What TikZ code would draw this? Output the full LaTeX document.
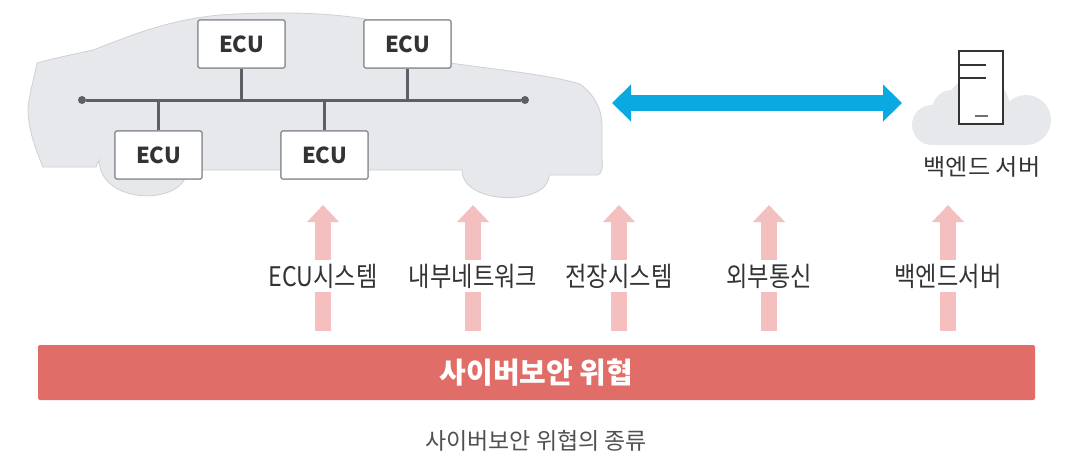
\documentclass[tikz,border=0pt]{standalone}
\usepackage{fontspec}
\setmainfont{Noto Sans CJK KR}
\newfontfamily\condfont[FakeStretch=0.86]{Noto Sans CJK KR}
\newfontfamily\widefont[FakeStretch=1.05]{Noto Sans CJK KR}
\usetikzlibrary{arrows.meta}

\definecolor{carfill}{HTML}{E6E8EB}
\definecolor{carline}{HTML}{CDD0D4}
\definecolor{busgray}{HTML}{5B6066}
\definecolor{eculine}{HTML}{8A8E92}
\definecolor{inktext}{HTML}{333333}
\definecolor{linkblue}{HTML}{0AA9E2}
\definecolor{threatpink}{HTML}{F3C0BF}
\definecolor{threatred}{HTML}{E06D67}
\definecolor{captiongray}{HTML}{505050}

\tikzset{
  ecubox/.style={draw=eculine, line width=1.2pt, fill=white, rounded corners=2pt,
    minimum width=87pt, minimum height=48pt, inner sep=0pt,
    font=\fontsize{22}{22}\selectfont\bfseries, text=inktext},
  bus/.style={draw=busgray, line width=3pt},
  busdot/.style={circle, fill=busgray, minimum size=8pt, inner sep=0pt},
  threatlabel/.style={fill=white, inner sep=0pt, minimum height=32pt,
    font=\condfont\fontsize{27}{27}\selectfont, text=inktext},
  threatarrow/.style={line width=16pt, draw=threatpink,
    -{Triangle[width=31pt,length=17pt]}},
  linkarrow/.style={line width=16pt, draw=linkblue,
    {Triangle[width=36pt,length=19pt]}-{Triangle[width=36pt,length=19pt]}},
}

\begin{document}
\begin{tikzpicture}[x=1pt,y=-1pt]
\useasboundingbox (0,0) rectangle (1065,460);

% car silhouette
\fill[carfill, draw=carline, line width=0.8pt]
  (43,167) .. controls (36,150) and (28,130) .. (28,108)
  .. controls (30,90) and (35,75) .. (37,63)
  .. controls (55,58) and (75,54) .. (93,50)
  .. controls (125,38) and (165,20) .. (220,15)
  .. controls (280,11) and (330,13) .. (365,19)
  .. controls (395,30) and (425,50) .. (450,63)
  .. controls (500,70) and (550,75) .. (580,84)
  .. controls (595,95) and (602,110) .. (602,125)
  -- (602,160)
  .. controls (603,168) and (602,172) .. (598,175)
  -- (549,175)
  .. controls (550,206) and (462,206) .. (462,170)
  -- (187,170)
  .. controls (186,206) and (100,206) .. (99,160)
  -- (96,167)
  -- cycle;

% in-vehicle bus
\node[busdot] (busL) at (82,100) {};
\node[busdot] (busR) at (525,100) {};
\draw[bus] (busL) -- (busR);

\node[ecubox] (ecu1) at (241.5,44) {ECU};
\node[ecubox] (ecu2) at (407.5,44) {ECU};
\node[ecubox] (ecu3) at (158.5,155) {ECU};
\node[ecubox] (ecu4) at (324.5,155) {ECU};
\foreach \e in {ecu1,ecu2} \draw[bus, line width=2.5pt] (\e.south) -- (\e.south |- busL);
\foreach \e in {ecu3,ecu4} \draw[bus, line width=2.5pt] (\e.north) -- (\e.north |- busL);
\foreach \e in {ecu1,ecu2,ecu3,ecu4} \node[ecubox] at (\e) {ECU};

% backend cloud with server
\fill[carfill] (932,125) circle (20) (952,110) circle (20) (978,108) circle (32)
  (1026,120) circle (25);
\fill[carfill] (932,118) rectangle (1026,145);
\node[draw=inktext, line width=2pt, fill=white, minimum width=44pt, minimum height=73pt,
  inner sep=0pt] (server) at (981,87.5) {};
\draw[inktext, line width=1.6pt] (server.north west) ++(0,15) -- ++(28,0);
\draw[inktext, line width=1.6pt] (server.north west) ++(0,28) -- ++(28,0);
\draw[inktext!70, line width=2pt] (server.south) ++(-6,-9) -- ++(13,0);
\node[font=\widefont\fontsize{23}{23}\selectfont, text=inktext] (srvlabel) at (982,167) {백엔드 서버};

% vehicle-backend link
\coordinate (linkL) at (612,103);
\coordinate (linkR) at (902,103);
\draw[linkarrow] (linkL) -- (linkR);

% threat bar
\node[fill=threatred, rounded corners=2pt, minimum width=997pt, minimum height=55pt,
  inner sep=0pt, text=white, font=\fontsize{29}{29}\selectfont\bfseries] (bar) at (536.5,372.5) {사이버보안 위협};

% threat categories
\foreach \x/\t/\n in {323/ECU시스템/t1, 473/내부네트워크/t2, 619/전장시스템/t3, 769/외부통신/t4, 948/백엔드서버/t5} {
  \coordinate (\n base) at (\x,331);
  \coordinate (\n tip) at (\x,205);
  \draw[threatarrow] (\n base) -- (\n tip);
  \node[threatlabel] (\n) at (\x,276) {\t};
}

\node[font=\fontsize{23}{23}\selectfont, text=captiongray] (caption) at (536,441) {사이버보안 위협의 종류};
\end{tikzpicture}
\end{document}
